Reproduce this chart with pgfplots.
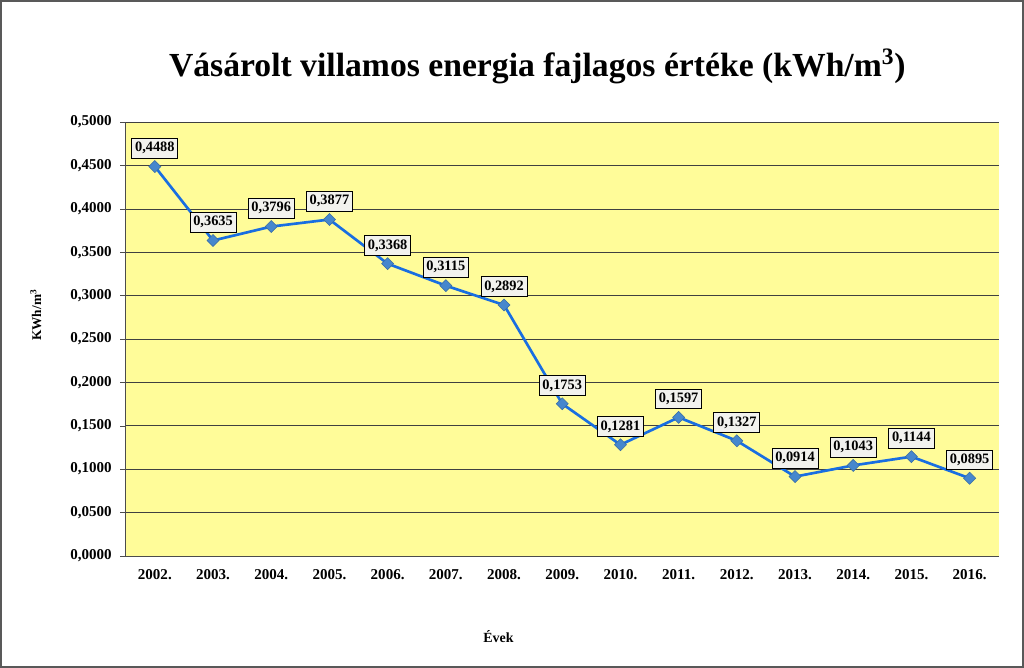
\documentclass[border=0pt]{standalone}
\usepackage{pgfplots}
\pgfplotsset{compat=1.18}
\usepackage{fontspec}
\setmainfont{Liberation Serif}
\definecolor{plotbg}{RGB}{255,252,153}
\definecolor{linec}{RGB}{25,110,225}
\definecolor{markc}{RGB}{70,135,205}
\definecolor{labelbg}{RGB}{242,242,238}
\begin{document}
\begin{tikzpicture}[x=1pt,y=1pt]
\draw[gray!70!black, line width=1.5pt, fill=white] (0,0) rectangle (768,500.25);
\node[font=\bfseries\fontsize{25.3}{28}\selectfont] at (403,451) {Vásárolt villamos energia fajlagos értéke (kWh/m\textsuperscript{3})};
\begin{axis}[
  at={(93.75pt,83.25pt)}, anchor=south west,
  scale only axis, width=656pt, height=326pt,
  xmin=-0.5, xmax=14.5, ymin=0, ymax=0.5,
  axis background/.style={fill=plotbg},
  axis line style={gray!60!black},
  axis x line*=bottom, axis y line*=left,
  xtick={0,...,14},
  xticklabels={2002.,2003.,2004.,2005.,2006.,2007.,2008.,2009.,2010.,2011.,2012.,2013.,2014.,2015.,2016.},
  extra x ticks={-0.5,0.5,1.5,2.5,3.5,4.5,5.5,6.5,7.5,8.5,9.5,10.5,11.5,12.5,13.5,14.5},
  extra x tick labels={},
  extra x tick style={major tick length=4pt, tick style={gray!60!black}, tick align=outside},
  x tick style={draw=none},
  ytick={0,0.05,...,0.5001},
  y tick style={gray!60!black},
  tick align=outside, major tick length=4pt,
  ymajorgrids, grid style={black!75, line width=0.5pt},
  ticklabel style={font=\bfseries\fontsize{11.3}{13}\selectfont},
  yticklabel style={xshift=-3pt, /pgf/number format/.cd, fixed, fixed zerofill, precision=4, use comma, 1000 sep={}, assume math mode=true},
  xticklabel style={yshift=-3pt},
  xlabel={Évek}, xlabel style={font=\bfseries\fontsize{10.5}{12}\selectfont, at={(0.427,-0.185)}, anchor=center},
  ylabel={KWh/m\textsuperscript{3}}, ylabel style={font=\bfseries\fontsize{10}{12}\selectfont, at={(-0.103,0.555)}, anchor=center},
  clip=false,
  nodes near coords,
  point meta=explicit symbolic,
  every node near coord/.append style={font=\bfseries\fontsize{10.8}{12}\selectfont, text=black, fill=labelbg, draw=black, line width=0.7pt, inner xsep=2.4pt, inner ysep=3pt, anchor=south, yshift=6pt},
]
\addplot[color=linec, line width=2pt, mark=square*, mark size=3.2pt, mark options={rotate=45, fill=markc, draw=markc!80!black, line width=0.4pt}] table[meta=lab] {
x y lab
0 0.4488 0,4488
1 0.3635 0,3635
2 0.3796 0,3796
3 0.3877 0,3877
4 0.3368 0,3368
5 0.3115 0,3115
6 0.2892 0,2892
7 0.1753 0,1753
8 0.1281 0,1281
9 0.1597 0,1597
10 0.1327 0,1327
11 0.0914 0,0914
12 0.1043 0,1043
13 0.1144 0,1144
14 0.0895 0,0895
};
\end{axis}
\end{tikzpicture}
\end{document}
